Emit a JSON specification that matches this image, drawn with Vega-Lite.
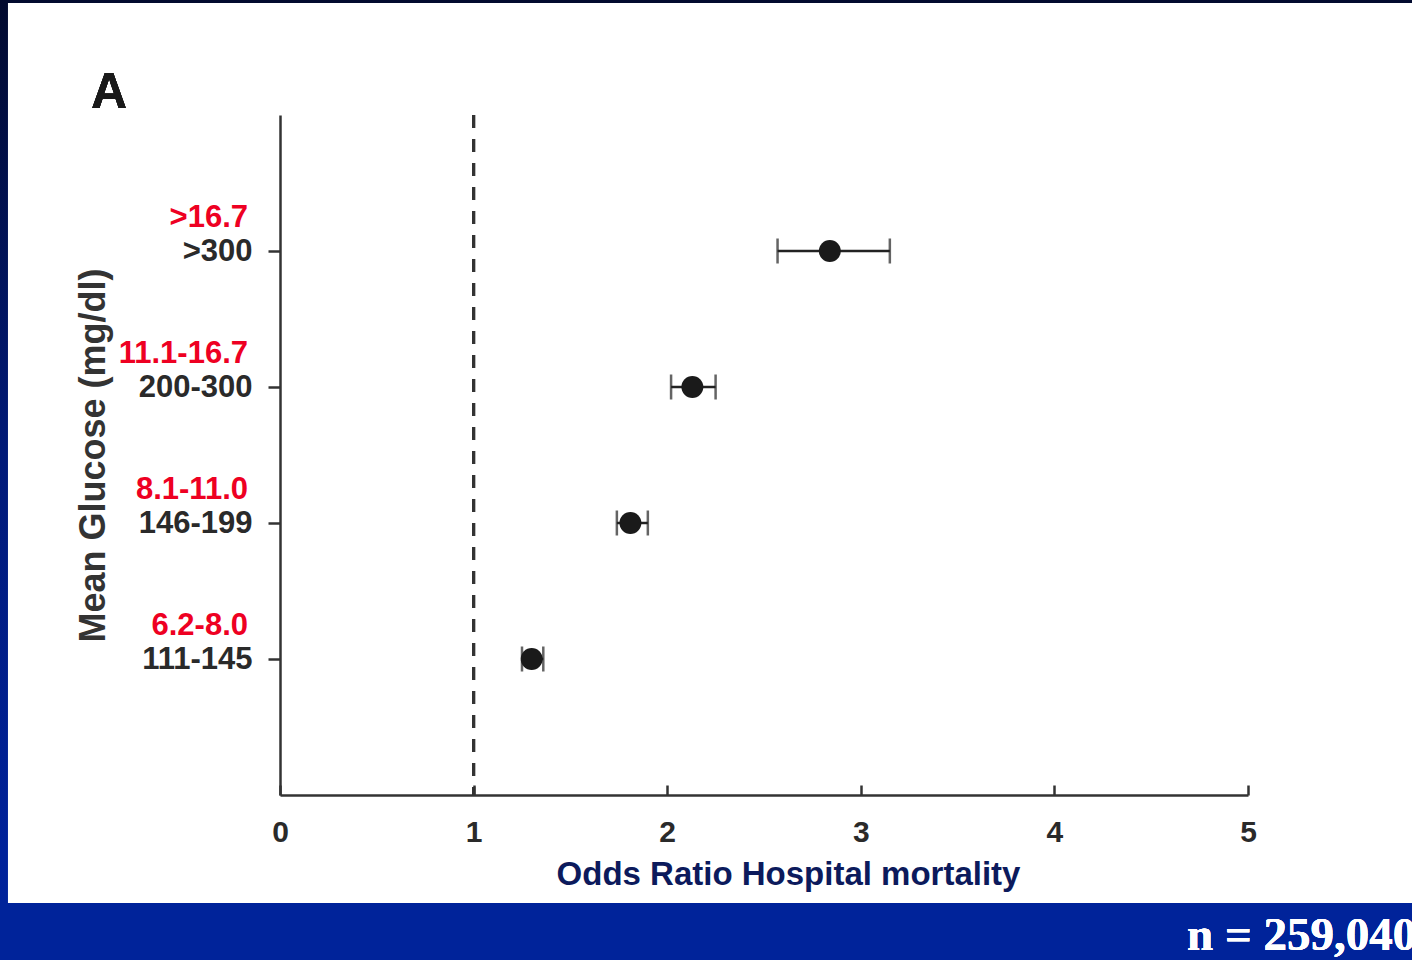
{
  "$schema": "https://vega.github.io/schema/vega-lite/v6.json",
  "autosize": {"type": "none"},
  "width": 968,
  "height": 680,
  "padding": {"left": 280, "top": 115, "right": 164, "bottom": 165},
  "background": "#00239a",
  "config": {
    "view": {"stroke": null},
    "font": "Liberation Sans"
  },
  "data": {
    "values": [
      {"level": 4, "mgdl": ">300", "mmol": ">16.7", "or": 2.84, "lo": 2.57, "hi": 3.15},
      {"level": 3, "mgdl": "200-300", "mmol": "11.1-16.7", "or": 2.13, "lo": 2.02, "hi": 2.25},
      {"level": 2, "mgdl": "146-199", "mmol": "8.1-11.0", "or": 1.81, "lo": 1.74, "hi": 1.90},
      {"level": 1, "mgdl": "111-145", "mmol": "6.2-8.0", "or": 1.30, "lo": 1.25, "hi": 1.36}
    ]
  },
  "encoding": {
    "y": {
      "field": "level",
      "type": "quantitative",
      "scale": {"domain": [0, 5], "nice": false, "zero": false},
      "axis": {
        "title": "Mean Glucose (mg/dl)",
        "zindex": 1,
        "values": [1, 2, 3, 4],
        "labelExpr": "datum.value == 4 ? '>300' : datum.value == 3 ? '200-300' : datum.value == 2 ? '146-199' : '111-145'",
        "grid": false,
        "domainColor": "#333333",
        "domainWidth": 2.5,
        "tickColor": "#333333",
        "tickWidth": 2.5,
        "tickSize": 12,
        "labelPadding": 16,
        "labelFont": "Liberation Sans",
        "labelFontSize": 31,
        "labelFontWeight": "bold",
        "labelColor": "#2a2a2a",
        "titleFont": "Liberation Sans",
        "titleFontSize": 36,
        "titleFontWeight": "bold",
        "titleColor": "#333333",
        "titlePadding": 26
      }
    }
  },
  "layer": [
    {
      "mark": {"type": "rect", "color": {"gradient": "linear", "x1": 0, "y1": 0, "x2": 0, "y2": 1, "stops": [{"offset": 0, "color": "#020a2e"}, {"offset": 0.5, "color": "#011a78"}, {"offset": 0.94, "color": "#00229a"}, {"offset": 1, "color": "#00239a"}]}},
      "encoding": {
        "x": {"datum": -1.447, "type": "quantitative", "scale": {"domain": [0, 5], "nice": false}},
        "x2": {"datum": 5.85},
        "y": {"datum": 5.85, "type": "quantitative"},
        "y2": {"datum": -0.8}
      }
    },
    {
      "mark": {"type": "rect", "color": "#00239a"},
      "encoding": {
        "x": {"datum": -1.447, "type": "quantitative"},
        "x2": {"datum": 5.85},
        "y": {"datum": -0.795, "type": "quantitative"},
        "y2": {"datum": -1.22}
      }
    },
    {
      "mark": {"type": "rect", "color": "#ffffff"},
      "encoding": {
        "x": {"datum": -1.405, "type": "quantitative"},
        "x2": {"datum": 5.85},
        "y": {"datum": 5.824, "type": "quantitative"},
        "y2": {"datum": -0.795}
      }
    },
    {
      "mark": {"type": "rule", "color": "#333333", "strokeWidth": 3, "strokeDash": [13, 11]},
      "encoding": {
        "x": {"datum": 1, "type": "quantitative"},
        "y": {"datum": 5, "type": "quantitative"},
        "y2": {"datum": 0}
      }
    },
    {
      "mark": {"type": "rule", "color": "#222222", "strokeWidth": 2.5},
      "encoding": {
        "x": {"field": "lo", "type": "quantitative"},
        "x2": {"field": "hi"}
      }
    },
    {
      "mark": {"type": "tick", "orient": "vertical", "color": "#222222", "thickness": 2.5, "size": 25},
      "encoding": {"x": {"field": "lo", "type": "quantitative"}}
    },
    {
      "mark": {"type": "tick", "orient": "vertical", "color": "#222222", "thickness": 2.5, "size": 25},
      "encoding": {"x": {"field": "hi", "type": "quantitative"}}
    },
    {
      "mark": {"type": "circle", "color": "#1a1a1a", "opacity": 1, "size": 480},
      "encoding": {
        "x": {
          "field": "or",
          "type": "quantitative",
          "scale": {"domain": [0, 5], "nice": false},
          "axis": {
            "title": "Odds Ratio Hospital mortality",
            "zindex": 1,
            "values": [0, 1, 2, 3, 4, 5],
            "format": "d",
            "grid": false,
            "domainColor": "#333333",
            "domainWidth": 2.5,
            "tickColor": "#333333",
            "tickWidth": 2.5,
            "tickSize": -10,
            "labelPadding": 32,
            "labelFont": "Liberation Sans",
            "labelFontSize": 30,
            "labelFontWeight": "bold",
            "labelColor": "#2a2a2a",
            "labelFlush": false,
            "titleFont": "Liberation Sans",
            "titleFontSize": 33,
            "titleFontWeight": "bold",
            "titleColor": "#0c1a5c",
            "titleX": 508,
            "titlePadding": 11
          }
        }
      }
    },
    {
      "mark": {"type": "text", "align": "right", "baseline": "middle", "dx": -32, "dy": -33, "font": "Liberation Sans", "fontSize": 31, "fontWeight": "bold", "color": "#ee0022"},
      "encoding": {
        "x": {"datum": 0, "type": "quantitative"},
        "text": {"field": "mmol"}
      }
    },
    {
      "mark": {"type": "text", "align": "center", "baseline": "middle", "font": "Liberation Sans", "fontSize": 50, "fontWeight": "bold", "color": "#1a1a1a"},
      "encoding": {
        "x": {"datum": -0.883, "type": "quantitative"},
        "y": {"datum": 5.16, "type": "quantitative"},
        "text": {"value": "A"}
      }
    },
    {
      "mark": {"type": "text", "align": "left", "baseline": "alphabetic", "font": "Liberation Serif", "fontSize": 47, "fontWeight": "bold", "color": "#ffffff"},
      "encoding": {
        "x": {"datum": 4.685, "type": "quantitative"},
        "y": {"datum": -1.14, "type": "quantitative"},
        "text": {"value": "n = 259,040"}
      }
    }
  ]
}
